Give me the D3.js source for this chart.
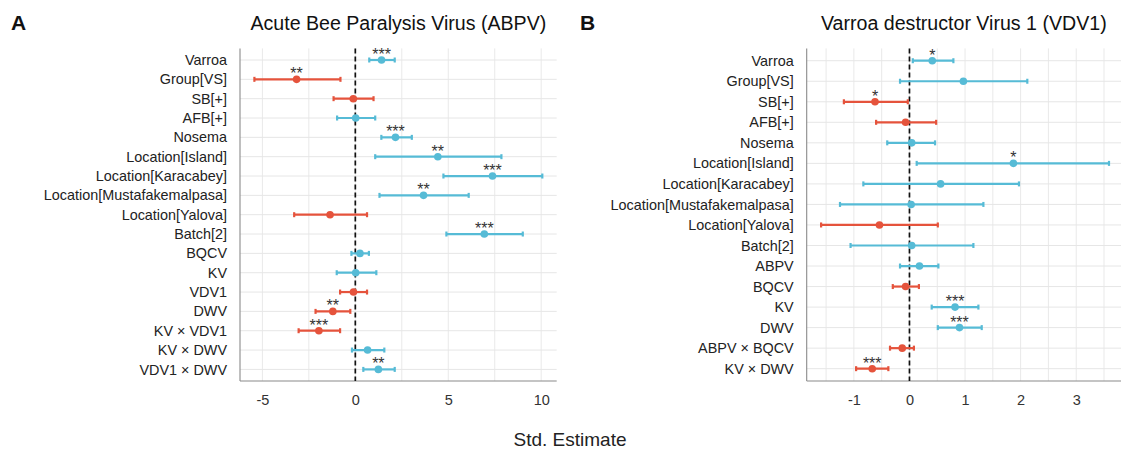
<!DOCTYPE html>
<html>
<head>
<meta charset="utf-8">
<script src="https://cdn.jsdelivr.net/npm/d3@7"></script>
<style>
  html, body { margin: 0; padding: 0; background: #fff; }
  svg { display: block; font-family: "Liberation Sans", Arial, sans-serif; }
</style>
</head>
<body>
<svg id="chart" width="1121" height="450"></svg>
<script>
// Model A: Acute Bee Paralysis Virus (ABPV)
const abpvTerms = ["Varroa", "Group[VS]", "SB[+]", "AFB[+]", "Nosema", "Location[Island]",
  "Location[Karacabey]", "Location[Mustafakemalpasa]", "Location[Yalova]", "Batch[2]",
  "BQCV", "KV", "VDV1", "DWV", "KV × VDV1", "KV × DWV", "VDV1 × DWV"];
const abpvEst  = [1.41, -3.16, -0.11, 0.02, 2.16, 4.44, 7.38, 3.67, -1.36, 6.94, 0.25, 0.02, -0.10, -1.21, -1.96, 0.66, 1.24];
const abpvLow  = [0.75, -5.43, -1.17, -0.98, 1.40, 1.07, 4.74, 1.30, -3.29, 4.90, -0.21, -1.00, -0.82, -2.14, -3.05, -0.18, 0.43];
const abpvHigh = [2.12, -0.80, 0.98, 1.07, 3.04, 7.86, 10.06, 6.10, 0.63, 9.01, 0.73, 1.13, 0.63, -0.27, -0.82, 1.56, 2.12];
const abpvSig  = ["***", "**", "", "", "***", "**", "***", "**", "", "***", "", "", "", "**", "***", "", "**"];
const abpvTicks = [-5, 0, 5, 10];

// Model B: Varroa destructor Virus 1 (VDV1)
const vdv1Terms = ["Varroa", "Group[VS]", "SB[+]", "AFB[+]", "Nosema", "Location[Island]",
  "Location[Karacabey]", "Location[Mustafakemalpasa]", "Location[Yalova]", "Batch[2]",
  "ABPV", "BQCV", "KV", "DWV", "ABPV × BQCV", "KV × DWV"];
const vdv1Est  = [0.41, 0.97, -0.62, -0.07, 0.04, 1.87, 0.56, 0.03, -0.54, 0.04, 0.18, -0.07, 0.82, 0.90, -0.13, -0.67];
const vdv1Low  = [0.06, -0.17, -1.18, -0.60, -0.40, 0.13, -0.83, -1.25, -1.59, -1.06, -0.17, -0.30, 0.40, 0.51, -0.35, -0.96];
const vdv1High = [0.79, 2.12, -0.03, 0.48, 0.46, 3.59, 1.97, 1.33, 0.51, 1.15, 0.52, 0.17, 1.24, 1.30, 0.08, -0.38];
const vdv1Sig  = ["*", "", "*", "", "", "*", "", "", "", "", "", "", "***", "***", "", "***"];
const vdv1Ticks = [-1, 0, 1, 2, 3];

const POS = "#56bbd6", NEG = "#e5533c";
const svg = d3.select("#chart");

function panel(opt) {
  const { terms, est, low, high, sig, ticks, minorStep, left, right, top, bottom, title, tag, tagX } = opt;
  const rows = terms.map((t, i) => ({ term: t, est: est[i], low: low[i], high: high[i], sig: sig[i] }));

  // continuous axis with 5% expansion on each side
  const lo = d3.min(low), hi = d3.max(high), pad = (hi - lo) * 0.05;
  const x = d3.scaleLinear().domain([lo - pad, hi + pad]).range([left, right]);
  const y = d3.scalePoint().domain(terms).range([top, bottom]).padding(0.6);

  const g = svg.append("g");

  // grid: vertical lines at every half-step of the tick interval
  const [d0, d1] = x.domain();
  const gridVals = d3.range(Math.ceil(d0 / minorStep) * minorStep, d1, minorStep);
  g.append("g").selectAll("line").data(gridVals).join("line")
    .attr("x1", d => x(d)).attr("x2", d => x(d))
    .attr("y1", top).attr("y2", bottom)
    .attr("stroke", "#e9e9e9").attr("stroke-width", 1);
  g.append("g").selectAll("line").data(terms).join("line")
    .attr("x1", left).attr("x2", right)
    .attr("y1", d => y(d)).attr("y2", d => y(d))
    .attr("stroke", "#e6e6e6").attr("stroke-width", 1);

  // axis lines
  g.append("line").attr("x1", left).attr("x2", left).attr("y1", top).attr("y2", bottom)
    .attr("stroke", "#8a8a8a").attr("stroke-width", 1.1);
  g.append("line").attr("x1", left).attr("x2", right).attr("y1", bottom).attr("y2", bottom)
    .attr("stroke", "#8a8a8a").attr("stroke-width", 1.1);

  // reference line at zero
  g.append("line").attr("x1", x(0)).attr("x2", x(0)).attr("y1", top).attr("y2", bottom)
    .attr("stroke", "#111").attr("stroke-width", 1.7).attr("stroke-dasharray", "5,3");

  // x axis tick labels
  const xAxis = d3.axisBottom(x).tickValues(ticks).tickSize(0).tickPadding(14)
    .tickFormat(d => d < 0 ? "-" + Math.abs(d) : d);
  const xa = g.append("g").attr("transform", `translate(0,${bottom})`).call(xAxis);
  xa.select(".domain").remove();
  xa.selectAll("text").attr("font-size", 14.5).attr("fill", "#333")
    .attr("font-family", "Liberation Sans, Arial, sans-serif");

  // y axis term labels
  const yAxis = d3.axisLeft(y).tickSize(0).tickPadding(13);
  const ya = g.append("g").attr("transform", `translate(${left},0)`).call(yAxis);
  ya.select(".domain").remove();
  ya.selectAll("text").attr("font-size", 14.4).attr("fill", "#222")
    .attr("font-family", "Liberation Sans, Arial, sans-serif");

  // error bars with small end caps
  const bars = g.append("g").selectAll("g").data(rows).join("g")
    .attr("stroke", d => d.est < 0 ? NEG : POS).attr("stroke-width", 2.2);
  bars.append("line").attr("x1", d => x(d.low)).attr("x2", d => x(d.high))
    .attr("y1", d => y(d.term)).attr("y2", d => y(d.term));
  bars.append("line").attr("x1", d => x(d.low)).attr("x2", d => x(d.low))
    .attr("y1", d => y(d.term) - 2.5).attr("y2", d => y(d.term) + 2.5);
  bars.append("line").attr("x1", d => x(d.high)).attr("x2", d => x(d.high))
    .attr("y1", d => y(d.term) - 2.5).attr("y2", d => y(d.term) + 2.5);

  // point estimates
  g.append("g").selectAll("circle").data(rows).join("circle")
    .attr("cx", d => x(d.est)).attr("cy", d => y(d.term)).attr("r", 3.8)
    .attr("fill", d => d.est < 0 ? NEG : POS);

  // significance stars
  g.append("g").selectAll("text").data(rows.filter(d => d.sig)).join("text")
    .attr("x", d => x(d.est)).attr("y", d => y(d.term))
    .attr("text-anchor", "middle").attr("font-size", 16).attr("fill", "#333")
    .text(d => d.sig);

  // panel title and tag
  g.append("text").attr("x", (left + Math.min(right, 1121)) / 2).attr("y", 30)
    .attr("text-anchor", "middle").attr("font-size", 19.6).attr("fill", "#111").text(title);
  g.append("text").attr("x", tagX).attr("y", 30)
    .attr("font-size", 21).attr("font-weight", "bold").attr("fill", "#111").text(tag);
}

panel({ terms: abpvTerms, est: abpvEst, low: abpvLow, high: abpvHigh, sig: abpvSig,
  ticks: abpvTicks, minorStep: 2.5, left: 240, right: 556.7, top: 48.4, bottom: 381,
  title: "Acute Bee Paralysis Virus (ABPV)", tag: "A", tagX: 11 });

panel({ terms: vdv1Terms, est: vdv1Est, low: vdv1Low, high: vdv1High, sig: vdv1Sig,
  ticks: vdv1Ticks, minorStep: 0.5, left: 806.7, right: 1123.4, top: 48.4, bottom: 381,
  title: "Varroa destructor Virus 1 (VDV1)", tag: "B", tagX: 580 });

// shared x axis title
svg.append("text").attr("x", 570).attr("y", 446).attr("text-anchor", "middle")
  .attr("font-size", 19).attr("fill", "#222").text("Std. Estimate");
</script>
</body>
</html>
